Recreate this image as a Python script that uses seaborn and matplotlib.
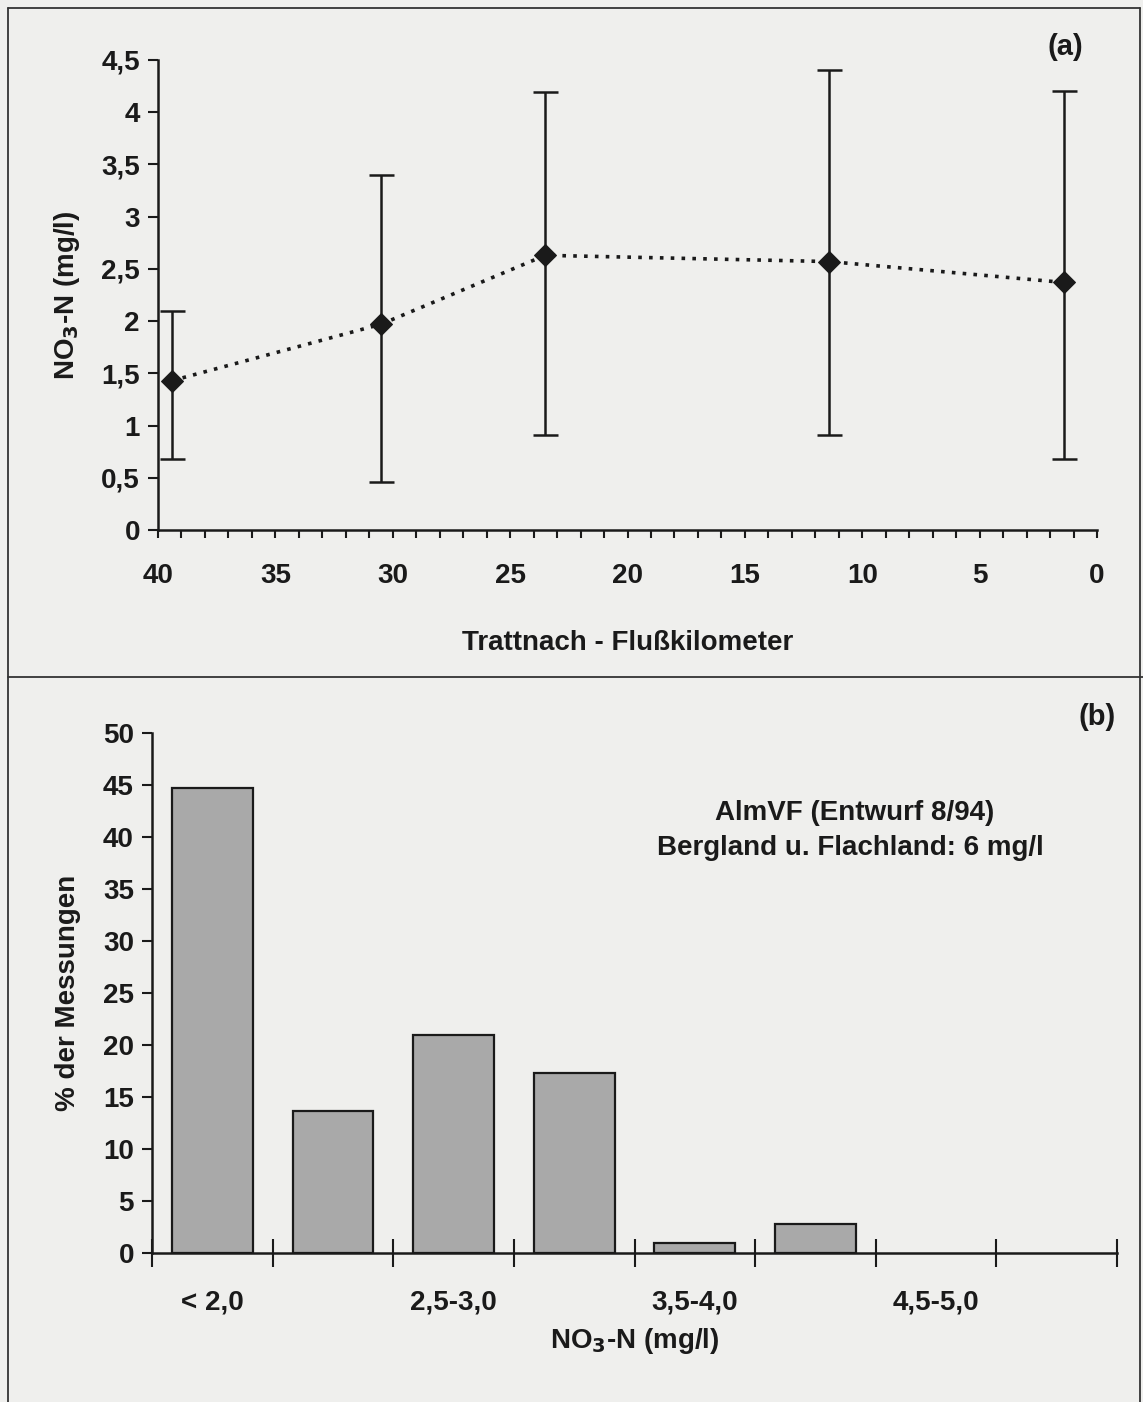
import matplotlib
matplotlib.use("Agg")
import matplotlib.pyplot as plt
import seaborn as sns
import pandas as pd
import numpy as np
from matplotlib.lines import Line2D
from matplotlib.ticker import MultipleLocator, FixedLocator

# ---- data (a) ----
km = [39.4, 30.5, 23.5, 11.4, 1.4]
no3_mean = [1.43, 1.97, 2.63, 2.57, 2.37]
no3_min = [0.68, 0.46, 0.91, 0.91, 0.68]
no3_max = [2.10, 3.40, 4.19, 4.40, 4.20]
y_ticks_a = [0, 0.5, 1, 1.5, 2, 2.5, 3, 3.5, 4, 4.5]
y_ticklabels_a = ["0", "0,5", "1", "1,5", "2", "2,5", "3", "3,5", "4", "4,5"]

# ---- data (b) ----
classes = ["< 2,0", "2,0-2,5", "2,5-3,0", "3,0-3,5", "3,5-4,0", "4,0-4,5", "4,5-5,0", "> 5,0"]
percent = [44.7, 13.7, 21.0, 17.3, 1.0, 2.8, 0.0, 0.0]
shown_labels = ["< 2,0", "", "2,5-3,0", "", "3,5-4,0", "", "4,5-5,0", ""]

sns.set_theme(style="white")
plt.rcParams['font.family'] = ['Liberation Sans Narrow', 'Liberation Sans', 'DejaVu Sans']
plt.rcParams['font.weight'] = 'bold'
bg = '#efefed'

fig = plt.figure(figsize=(11.43, 14.02), dpi=100, facecolor=bg)
W, H = 1143, 1402

def frac(l, t, r, b):
    return [l / W, 1 - b / H, (r - l) / W, (b - t) / H]

# ---------------- (a) ----------------
ax1 = fig.add_axes(frac(158, 60, 1097, 530))
ax1.set_facecolor(bg)
dfa = pd.DataFrame({"km": km, "mean": no3_mean, "lo": no3_min, "hi": no3_max})
ax1.errorbar(dfa["km"], dfa["mean"],
             yerr=[dfa["mean"] - dfa["lo"], dfa["hi"] - dfa["mean"]],
             fmt='none', ecolor='#1a1a1a', elinewidth=1.8, capsize=9, capthick=1.8, zorder=2)
sns.lineplot(data=dfa, x="km", y="mean", ax=ax1, color='#1a1a1a', linestyle=(0, (1, 2.0)),
             linewidth=2.6, marker='D', markersize=11, markeredgecolor='#1a1a1a',
             sort=False, zorder=3)
ax1.set_xlim(40, 0)
ax1.set_ylim(0, 4.5)
ax1.xaxis.set_minor_locator(MultipleLocator(1))
ax1.set_xticks([40, 35, 30, 25, 20, 15, 10, 5, 0])
ax1.set_xticklabels(["40", "35", "30", "25", "20", "15", "10", "5", "0"])
ax1.set_yticks(y_ticks_a)
ax1.set_yticklabels(y_ticklabels_a)
for s in ['top', 'right']:
    ax1.spines[s].set_visible(False)
for s in ['left', 'bottom']:
    ax1.spines[s].set_color('#1a1a1a')
    ax1.spines[s].set_linewidth(1.8)
ax1.tick_params(axis='x', which='both', direction='out', length=6, width=1.5,
                colors='#1a1a1a', labelsize=20, pad=18, bottom=True)
ax1.tick_params(axis='y', which='major', direction='out', length=7, width=1.5,
                colors='#1a1a1a', labelsize=20, pad=6, left=True)
for lab in ax1.get_xticklabels() + ax1.get_yticklabels():
    lab.set_fontweight('bold')
ax1.set_xlabel("Trattnach - Flußkilometer", fontsize=20, fontweight='bold', labelpad=29, color='#1a1a1a')
ax1.set_ylabel("NO$_3$-N (mg/l)", fontsize=20, fontweight='bold', labelpad=14, color='#1a1a1a')
ax1.text(1065 / W, 1 - 47 / H, "(a)", transform=fig.transFigure, ha='center', va='center',
         fontsize=21, fontweight='bold', color='#1a1a1a')

# ---------------- (b) ----------------
ax2 = fig.add_axes(frac(152, 733, 1117, 1253))
ax2.set_facecolor(bg)
dfb = pd.DataFrame({"klasse": classes, "pct": percent})
sns.barplot(data=dfb, x="klasse", y="pct", order=classes, ax=ax2, color='#a9a9a9',
            edgecolor='#1a1a1a', linewidth=1.6, width=0.67, saturation=1)
for p in ax2.patches:
    if p.get_height() == 0:
        p.set_visible(False)
ax2.set_xlim(-0.5, 7.5)
ax2.set_ylim(0, 50)
ax2.set_yticks(np.arange(0, 51, 5))
ax2.set_yticklabels([str(v) for v in range(0, 51, 5)])
ax2.xaxis.set_major_locator(FixedLocator(np.arange(-0.5, 7.6, 1)))
ax2.set_xticklabels([""] * 9)
ax2.xaxis.set_minor_locator(FixedLocator(np.arange(0, 8, 1)))
ax2.set_xticklabels(shown_labels, minor=True)
for s in ['top', 'right']:
    ax2.spines[s].set_visible(False)
for s in ['left', 'bottom']:
    ax2.spines[s].set_color('#1a1a1a')
    ax2.spines[s].set_linewidth(1.8)
ax2.tick_params(axis='x', which='major', direction='inout', length=20, width=1.5,
                colors='#1a1a1a', bottom=True)
ax2.tick_params(axis='x', which='minor', length=0, labelsize=20, pad=26, colors='#1a1a1a', bottom=True)
ax2.tick_params(axis='y', which='major', direction='out', length=7, width=1.5,
                colors='#1a1a1a', labelsize=20, pad=6, left=True)
for lab in ax2.get_xticklabels(minor=True) + ax2.get_yticklabels():
    lab.set_fontweight('bold')
ax2.set_xlabel("NO$_3$-N (mg/l)", fontsize=20, fontweight='bold', labelpad=8, color='#1a1a1a')
ax2.set_ylabel("% der Messungen", fontsize=20, fontweight='bold', labelpad=16, color='#1a1a1a')
ax2.text(1097 / W, 1 - 717 / H, "(b)", transform=fig.transFigure, ha='center', va='center',
         fontsize=21, fontweight='bold', color='#1a1a1a')
ax2.text(855 / W, 1 - 813 / H, "AlmVF (Entwurf 8/94)", transform=fig.transFigure,
         ha='center', va='center', fontsize=20, fontweight='bold', color='#1a1a1a')
ax2.text(850 / W, 1 - 848 / H, "Bergland u. Flachland: 6 mg/l", transform=fig.transFigure,
         ha='center', va='center', fontsize=20, fontweight='bold', color='#1a1a1a')

# frame lines
for (x0, y0, x1, y1) in [(8, 8, 1140, 8), (8, 8, 8, 1402), (1140, 8, 1140, 1402), (8, 677, 1143, 677)]:
    fig.add_artist(Line2D([x0 / W, x1 / W], [1 - y0 / H, 1 - y1 / H], transform=fig.transFigure,
                          color='#333333', linewidth=1.3))

fig.savefig("out.png", dpi=100, facecolor=bg)
